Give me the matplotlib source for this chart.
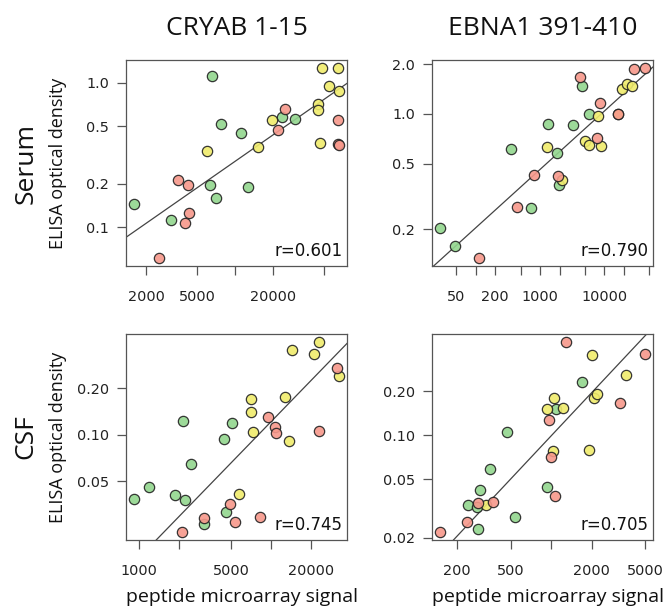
import numpy as np
import matplotlib
matplotlib.use("Agg")
import matplotlib.pyplot as plt
from matplotlib.ticker import FixedLocator, FixedFormatter, NullLocator

# colours of the three patient groups
colors = {"green": "#92D68E", "yellow": "#F0EC6C", "red": "#F7988B"}

# ---- Serum / CRYAB 1-15
s_cry_green_x = [1600, 3110, 6620, 7750, 6340, 7080, 11100, 12700, 23500, 29600]
s_cry_green_y = [0.146, 0.113, 1.105, 0.517, 0.195, 0.160, 0.451, 0.190, 0.583, 0.559]
s_cry_yellow_x = [6010, 15100, 19600, 45000, 45000, 46300, 48300, 54800, 65000, 65400]
s_cry_yellow_y = [0.339, 0.359, 0.551, 0.710, 0.645, 0.386, 1.27, 0.949, 1.255, 0.877]
s_cry_red_x = [2530, 3550, 4230, 4300, 4030, 21600, 24800, 65300, 64500, 65700]
s_cry_red_y = [0.0612, 0.214, 0.195, 0.1255, 0.1066, 0.470, 0.659, 0.556, 0.380, 0.374]

# ---- Serum / EBNA1 391-410
s_ebna_green_x = [27.9, 47.1, 346, 708, 1334, 1816, 1929, 3264, 4447, 5795]
s_ebna_green_y = [0.202, 0.158, 0.614, 0.269, 0.870, 0.583, 0.373, 0.858, 1.485, 1.0]
s_ebna_yellow_x = [1256, 2203, 5015, 5795, 7890, 8690, 16150, 18420, 22600, 26600]
s_ebna_yellow_y = [0.628, 0.396, 0.686, 0.652, 0.968, 0.637, 1.0, 1.41, 1.52, 1.485]
s_ebna_red_x = [112.7, 433, 808, 1906, 4141, 7610, 8380, 16380, 28600, 42400]
s_ebna_red_y = [0.133, 0.274, 0.427, 0.421, 1.668, 0.712, 1.166, 0.995, 1.865, 1.91]

# ---- CSF / CRYAB 1-15
c_cry_green_x = [916, 1184, 1862, 2228, 2162, 2487, 3081, 4361, 4571, 5073]
c_cry_green_y = [0.0384, 0.0457, 0.0408, 0.0374, 0.122, 0.0647, 0.0264, 0.0935, 0.0316, 0.119]
c_cry_yellow_x = [5730, 7096, 7096, 7311, 12760, 13680, 14330, 21000, 22900, 32650]
c_cry_yellow_y = [0.0413, 0.1706, 0.1413, 0.1043, 0.175, 0.0916, 0.354, 0.333, 0.403, 0.240]
c_cry_red_x = [2102, 3081, 4844, 5373, 8292, 9420, 10710, 10830, 22900, 31840]
c_cry_red_y = [0.0232, 0.0286, 0.0353, 0.0272, 0.0293, 0.131, 0.113, 0.1033, 0.106, 0.270]

# ---- CSF / EBNA1 391-410
c_ebna_green_x = [240, 282, 297, 288, 350, 542, 470, 931, 1093, 1695]
c_ebna_green_y = [0.0337, 0.0323, 0.0423, 0.0230, 0.0588, 0.0279, 0.106, 0.0442, 0.152, 0.230]
c_ebna_yellow_x = [330, 937, 1050, 1032, 1225, 1910, 2023, 2070, 2193, 3575]
c_ebna_yellow_y = [0.0337, 0.152, 0.1795, 0.0783, 0.1535, 0.0796, 0.353, 0.180, 0.192, 0.257]
c_ebna_red_x = [150, 236, 287, 370, 960, 1004, 1071, 1290, 3245, 4953]
c_ebna_red_y = [0.0218, 0.0258, 0.0344, 0.0349, 0.1265, 0.0706, 0.0384, 0.434, 0.1667, 0.358]

col_titles = ["CRYAB 1-15", "EBNA1 391-410"]
row_titles = ["Serum", "CSF"]
r_labels = ["r=0.601", "r=0.790", "r=0.745", "r=0.705"]

# fitted lines (log10 y = intercept + slope * log10 x)
fit_slope = [0.610, 0.354, 0.883, 0.978]
fit_intercept = [-2.983, -1.398, -4.447, -3.938]

x_ticks = [[2000, 5000, 10000, 20000, 50000],
           [50, 100, 200, 500, 1000, 2000, 5000, 10000, 20000, 50000],
           [1000, 2000, 5000, 10000, 20000],
           [200, 500, 1000, 2000, 5000]]
x_ticklabels = [["2000", "5000", "", "20000", ""],
                ["50", "", "200", "", "1000", "", "", "10000", "", ""],
                ["1000", "", "5000", "", "20000"],
                ["200", "500", "", "2000", "5000"]]
y_ticks = [[0.1, 0.2, 0.5, 1.0],
           [0.2, 0.5, 1.0, 2.0],
           [0.05, 0.10, 0.20],
           [0.02, 0.05, 0.10, 0.20]]
y_ticklabels = [["0.1", "0.2", "0.5", "1.0"],
                ["0.2", "0.5", "1.0", "2.0"],
                ["0.05", "0.10", "0.20"],
                ["0.02", "0.05", "0.10", "0.20"]]

panels = [
    [(s_cry_green_x, s_cry_green_y, "green"), (s_cry_yellow_x, s_cry_yellow_y, "yellow"),
     (s_cry_red_x, s_cry_red_y, "red")],
    [(s_ebna_green_x, s_ebna_green_y, "green"), (s_ebna_yellow_x, s_ebna_yellow_y, "yellow"),
     (s_ebna_red_x, s_ebna_red_y, "red")],
    [(c_cry_green_x, c_cry_green_y, "green"), (c_cry_yellow_x, c_cry_yellow_y, "yellow"),
     (c_cry_red_x, c_cry_red_y, "red")],
    [(c_ebna_green_x, c_ebna_green_y, "green"), (c_ebna_yellow_x, c_ebna_yellow_y, "yellow"),
     (c_ebna_red_x, c_ebna_red_y, "red")],
]

W, H = 664, 612
fig = plt.figure(figsize=(W / 100, H / 100), dpi=100)

label_font = ["Open Sans", "DejaVu Sans"]
spine_col = "#555555"

# axes boxes in pixels: left, top, right, bottom
boxes = [(126, 60, 347, 266), (432, 60, 653, 266),
         (126, 334, 347, 540), (432, 334, 653, 540)]


def r_range(vals):
    # R-style axis range: data range padded by 4 % (on log scale)
    lv = np.log10(vals)
    span = lv.max() - lv.min()
    return 10 ** (lv.min() - 0.04 * span), 10 ** (lv.max() + 0.04 * span)


for i, groups in enumerate(panels):
    l, t, r, b = boxes[i]
    ax = fig.add_axes([l / W, (H - b) / H, (r - l) / W, (b - t) / H])
    ax.set_xscale("log")
    ax.set_yscale("log")

    all_x = np.concatenate([np.array(g[0], float) for g in groups])
    all_y = np.concatenate([np.array(g[1], float) for g in groups])
    xlim = r_range(all_x)
    ylim = r_range(all_y)

    for gx, gy, c in groups:
        ax.scatter(gx, gy, s=55, facecolor=colors[c], edgecolor="#222222",
                   linewidth=0.9, alpha=0.9, zorder=3)

    lx = np.array(xlim)
    ax.plot(lx, 10 ** (fit_intercept[i] + fit_slope[i] * np.log10(lx)),
            color="#444444", lw=0.9, zorder=2)

    ax.set_xlim(*xlim)
    ax.set_ylim(*ylim)

    ax.xaxis.set_major_locator(FixedLocator(x_ticks[i]))
    ax.xaxis.set_major_formatter(FixedFormatter(x_ticklabels[i]))
    ax.yaxis.set_major_locator(FixedLocator(y_ticks[i]))
    ax.yaxis.set_major_formatter(FixedFormatter(y_ticklabels[i]))
    ax.xaxis.set_minor_locator(NullLocator())
    ax.yaxis.set_minor_locator(NullLocator())
    ax.tick_params(axis="x", length=6.5, width=0.9, color=spine_col, pad=10.5,
                   labelsize=10.4, labelcolor="#222222")
    ax.tick_params(axis="y", length=6.5, width=0.9, color=spine_col, pad=5.5,
                   labelsize=10.4, labelcolor="#222222")
    for sp in ax.spines.values():
        sp.set_color(spine_col)
        sp.set_linewidth(0.9)

    ax.text(0.98, 0.03, r_labels[i], transform=ax.transAxes, ha="right", va="bottom",
            fontsize=12, color="#111111")

# column titles
for j, txt in enumerate(col_titles):
    l, t, r, b = boxes[j]
    fig.text((l + r) / 2 / W, (H - 35) / H, txt, ha="center", va="baseline",
             fontsize=19, family=label_font, color="#111111")

# row titles and y labels
for k, txt in enumerate(row_titles):
    l, t, r, b = boxes[2 * k]
    yc = (H - (t + b) / 2) / H
    fig.text(26 / W, yc, txt, rotation=90, ha="center", va="center",
             fontsize=19, family=label_font, color="#111111")
    fig.text(58 / W, yc, "ELISA optical density", rotation=90, ha="center", va="center",
             fontsize=13, family=label_font, color="#111111")

# x labels
for j in range(2):
    l, t, r, b = boxes[2 + j]
    fig.text(((l + r) / 2 + 5) / W, (H - 602) / H, "peptide microarray signal",
             ha="center", va="baseline", fontsize=14, family=label_font, color="#111111")

fig.savefig("out.png", dpi=100)
